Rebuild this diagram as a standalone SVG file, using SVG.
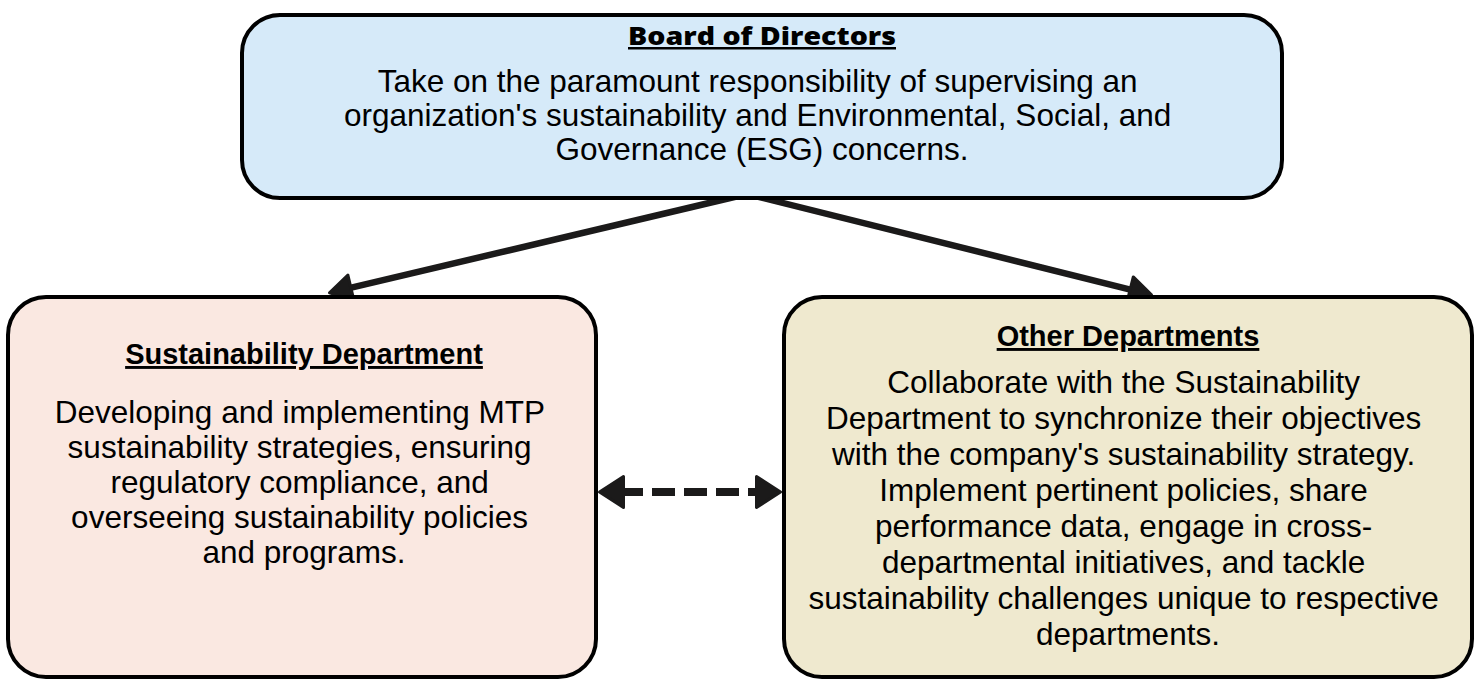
<svg xmlns="http://www.w3.org/2000/svg" width="1480" height="679" viewBox="0 0 1480 679">
  <style>
    .box { stroke: #000; stroke-width: 4; }
    .blue { fill: #d6eaf9; }
    .pink { fill: #fae8e1; }
    .sand { fill: #efe9cf; }
    .head { font-family: "Open Sans", "Liberation Sans", sans-serif; font-weight: 800; font-size: 25px; fill: #000; text-decoration: underline; }
    .sub { font-family: "Liberation Sans", Arial, sans-serif; font-weight: bold; font-size: 29px; fill: #000; text-decoration: underline; }
    .body { font-family: "Liberation Sans", Arial, sans-serif; font-size: 31.5px; fill: #000; }
    .edge { fill: none; stroke: #1b1a1a; stroke-width: 6.5; }
    .dash { fill: none; stroke: #1b1a1a; stroke-width: 8; stroke-dasharray: 23 9; stroke-dashoffset: 21; }
  </style>
  <defs>
    <!-- solid arrowhead, tip sits 12px past the path end -->
    <marker id="arrow" markerUnits="userSpaceOnUse" viewBox="-3 -3 30 32" markerWidth="30" markerHeight="32" refX="11.5" refY="13" orient="auto" overflow="visible">
      <path d="M0,0 L22,13 L0,26 Z" fill="#1b1a1a" stroke="#1b1a1a" stroke-width="3" stroke-linejoin="round"/>
    </marker>
    <!-- double-ended head for the dashed link -->
    <marker id="arrow2" markerUnits="userSpaceOnUse" viewBox="-3 -3 32 37" markerWidth="32" markerHeight="37" refX="14.5" refY="15.5" orient="auto-start-reverse" overflow="visible">
      <path d="M0,0 L24,15.5 L0,31 Z" fill="#1b1a1a" stroke="#1b1a1a" stroke-width="3" stroke-linejoin="round"/>
    </marker>
  </defs>

  <!-- connectors -->
  <g id="connectors">
    <path class="edge" d="M747,194 L339.7,290.4" marker-end="url(#arrow)"/>
    <path class="edge" d="M747,194 L1141.3,292.3" marker-end="url(#arrow)"/>
    <path class="dash" d="M609,492 L771,492" marker-start="url(#arrow2)" marker-end="url(#arrow2)"/>
  </g>

  <!-- board -->
  <g id="board">
    <rect class="box blue" x="242" y="15" width="1040" height="183" rx="38" ry="38"/>
    <text class="head" x="762" y="45" text-anchor="middle" textLength="268" lengthAdjust="spacingAndGlyphs">Board of Directors</text>
    <text class="body" text-anchor="middle">
      <tspan x="762" y="92">Take on the paramount responsibility of supervising an</tspan>
      <tspan x="762" y="126">organization's sustainability and Environmental, Social, and</tspan>
      <tspan x="762" y="160">Governance (ESG) concerns.</tspan>
    </text>
  </g>

  <!-- sustainability department -->
  <g id="sustainability">
    <rect class="box pink" x="8" y="297" width="588" height="380" rx="38" ry="38"/>
    <text class="sub" x="304" y="364" text-anchor="middle">Sustainability Department</text>
    <text class="body" text-anchor="middle">
      <tspan x="304" y="423">Developing and implementing MTP</tspan>
      <tspan x="304" y="458">sustainability strategies, ensuring</tspan>
      <tspan x="304" y="493">regulatory compliance, and</tspan>
      <tspan x="304" y="528">overseeing sustainability policies</tspan>
      <tspan x="304" y="563">and programs.</tspan>
    </text>
  </g>

  <!-- other departments -->
  <g id="others">
    <rect class="box sand" x="784" y="297" width="688" height="380" rx="38" ry="38"/>
    <text class="sub" x="1128" y="346" text-anchor="middle">Other Departments</text>
    <text class="body" text-anchor="middle">
      <tspan x="1128" y="393">Collaborate with the Sustainability</tspan>
      <tspan x="1128" y="429">Department to synchronize their objectives</tspan>
      <tspan x="1128" y="465">with the company's sustainability strategy.</tspan>
      <tspan x="1128" y="501">Implement pertinent policies, share</tspan>
      <tspan x="1128" y="537">performance data, engage in cross-</tspan>
      <tspan x="1128" y="573">departmental initiatives, and tackle</tspan>
      <tspan x="1128" y="609">sustainability challenges unique to respective</tspan>
      <tspan x="1128" y="645">departments.</tspan>
    </text>
  </g>
</svg>
